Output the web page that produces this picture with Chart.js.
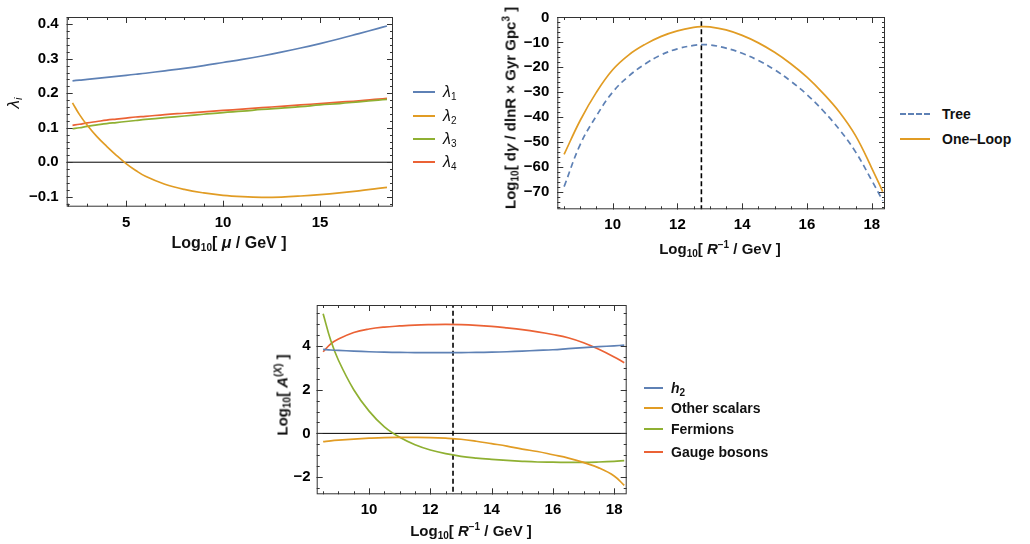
<!DOCTYPE html>
<html>
<head>
<meta charset="utf-8">
<script src="https://cdn.jsdelivr.net/npm/chart.js@4.4.1/dist/chart.umd.min.js"></script>
<style>
  body { margin: 0; background: #fff; width: 1030px; height: 544px; position: relative; overflow: hidden;
         font-family: "Liberation Sans", Arial, sans-serif; color: #111; }
  canvas { position: absolute; }
  .t { position: absolute; font-weight: bold; font-size: 15px; white-space: nowrap; line-height: 1; }
  .t sub { font-size: 10px; vertical-align: -3px; line-height: 0; }
  .t sup { font-size: 10px; vertical-align: 6px; line-height: 0; }
  .yt { transform: translate(-50%, -50%) rotate(-90deg); }
  .xt { transform: translate(-50%, -50%); }
  .lg { position: absolute; font-size: 14px; font-weight: bold; white-space: nowrap; line-height: 1;
        transform: translateY(-50%); }
  .lg.n { font-weight: normal; font-size: 16px; }
  .lg sub { font-size: 10px; vertical-align: -3px; line-height: 0; }
  .ln { position: absolute; height: 0; border-top: 2px solid; }
</style>
</head>
<body>
<canvas id="c1" width="400" height="260" style="left:0;top:0"></canvas>
<canvas id="c2" width="400" height="260" style="left:500px;top:0"></canvas>
<canvas id="c3" width="400" height="254" style="left:250px;top:290px"></canvas>

<!-- axis titles -->
<div class="t yt" style="left:13px;top:103px;font-weight:normal;font-size:17px"><i>λ</i><sub style="font-size:11px"><i>i</i></sub></div>
<div class="t xt" style="left:229px;top:243px;font-size:16px">Log<sub>10</sub>[ <i>μ</i> / GeV ]</div>
<div class="t yt" style="left:510px;top:108px">Log<sub>10</sub>[ d<i>γ</i> / dlnR × Gyr Gpc<sup>3</sup> ]</div>
<div class="t xt" style="left:720px;top:248px">Log<sub>10</sub>[ <i>R</i><sup>−1</sup> / GeV ]</div>
<div class="t yt" style="left:282px;top:395px">Log<sub>10</sub>[ <i>A</i><sup>(<i>X</i>)</sup> ]</div>
<div class="t xt" style="left:471px;top:530px">Log<sub>10</sub>[ <i>R</i><sup>−1</sup> / GeV ]</div>

<!-- legends -->
<div id="leg1"></div>
<div id="leg2"></div>
<div id="leg3"></div>

<script>
// ── Colours (Mathematica default palette) ────────────────────────────────────
const BLUE = '#5e81b5', ORANGE = '#e19c24', GREEN = '#8fb032', RED = '#eb6235';

// ── Panel 1: running couplings λi vs Log10 μ ─────────────────────────────────
const muLog = [2.24, 2.6, 3, 3.5, 4, 4.5, 5, 5.5, 6, 7, 8, 9, 10, 11, 12, 13, 14, 15, 16, 17, 18, 18.45];
const lam1  = [0.236, 0.238, 0.240, 0.243, 0.246, 0.249, 0.252, 0.255, 0.258, 0.265, 0.272, 0.280, 0.289, 0.298, 0.308, 0.319, 0.331, 0.344, 0.358, 0.373, 0.388, 0.395];
const lam2  = [0.172, 0.138, 0.107, 0.074, 0.046, 0.020, -0.004, -0.024, -0.041, -0.064, -0.079, -0.089, -0.096, -0.100, -0.102, -0.101, -0.098, -0.094, -0.089, -0.083, -0.076, -0.073];
const lam3  = [0.097, 0.100, 0.104, 0.108, 0.112, 0.115, 0.118, 0.121, 0.124, 0.129, 0.134, 0.139, 0.144, 0.148, 0.153, 0.157, 0.161, 0.166, 0.170, 0.175, 0.180, 0.182];
const lam4  = [0.107, 0.110, 0.114, 0.118, 0.122, 0.125, 0.128, 0.131, 0.133, 0.138, 0.142, 0.146, 0.150, 0.154, 0.158, 0.162, 0.166, 0.170, 0.174, 0.178, 0.183, 0.185];

// ── Panel 2: decay rate vs Log10 R^-1 ────────────────────────────────────────
const rLog2   = [8.5, 9, 9.5, 10, 10.5, 11, 11.5, 12, 12.5, 12.75, 13, 13.5, 14, 14.5, 15, 15.5, 16, 16.5, 17, 17.5, 18, 18.34];
const tree    = [-68, -51, -39.5, -30, -23.5, -18.7, -15, -12.6, -11.2, -10.9, -11, -12.3, -14.4, -17.3, -21, -25.6, -31, -37.5, -45, -54, -65.5, -73.6];
const oneLoop = [-55, -41.3, -30, -21, -15, -10.8, -7.6, -5.4, -4, -3.7, -3.8, -5, -7.2, -10.2, -14, -18.6, -24, -30.5, -38, -47.5, -60.5, -70];
const rStar = 12.74;   // dashed marker

// ── Panel 3: contributions A(X) ──────────────────────────────────────────────
const rLog3    = [8.5, 8.75, 9, 9.5, 10, 10.5, 11, 11.5, 12, 12.5, 13, 13.5, 14, 14.5, 15, 15.5, 16, 16.5, 17, 17.5, 18, 18.33];
const h2       = [3.85, 3.82, 3.80, 3.77, 3.74, 3.72, 3.71, 3.70, 3.70, 3.70, 3.70, 3.71, 3.72, 3.74, 3.77, 3.80, 3.83, 3.88, 3.93, 3.97, 4.01, 4.04];
const otherSc  = [-0.38, -0.34, -0.31, -0.26, -0.22, -0.19, -0.18, -0.18, -0.19, -0.22, -0.27, -0.36, -0.47, -0.58, -0.72, -0.83, -0.98, -1.13, -1.33, -1.58, -1.95, -2.38];
const fermions = [5.48, 4.25, 3.35, 2.0, 1.02, 0.3, -0.18, -0.52, -0.76, -0.93, -1.05, -1.13, -1.19, -1.24, -1.28, -1.31, -1.32, -1.33, -1.33, -1.31, -1.28, -1.25];
const gauge    = [3.74, 4.1, 4.32, 4.62, 4.78, 4.87, 4.92, 4.96, 4.98, 4.99, 4.98, 4.95, 4.90, 4.83, 4.75, 4.65, 4.53, 4.38, 4.15, 3.85, 3.5, 3.24];

// ── Helpers ──────────────────────────────────────────────────────────────────
const pts = (xs, ys) => xs.map((x, i) => ({ x, y: ys[i] }));
const curve = (xs, ys, color, dash) => ({
  data: pts(xs, ys), borderColor: color, borderWidth: 1.7, borderDash: dash || [],
  pointRadius: 0, tension: 0.4, fill: false,
});
const hline = (x0, x1, y) => ({ data: [{ x: x0, y }, { x: x1, y }], borderColor: '#000', borderWidth: 1, pointRadius: 0 });
const vline = (x, y0, y1) => ({ data: [{ x, y: y0 }, { x, y: y1 }], borderColor: '#000', borderWidth: 1.6, borderDash: [5, 3], pointRadius: 0 });
const minus = (s) => String(s).replace('-', '\u2212');

// frame with inward major/minor ticks on all four sides
const framePlugin = {
  id: 'frame',
  afterDatasetsDraw(chart, args, o) {
    const { ctx, chartArea: a, scales: { x, y } } = chart;
    ctx.save();
    ctx.strokeStyle = '#333';
    ctx.lineWidth = 1;
    ctx.strokeRect(a.left + 0.5, a.top + 0.5, a.width - 1, a.height - 1);
    const marks = (scale, step, len, horiz) => {
      const i0 = Math.ceil(scale.min / step - 1e-6), i1 = Math.floor(scale.max / step + 1e-6);
      ctx.beginPath();
      for (let i = i0; i <= i1; i++) {
        const p = Math.round(scale.getPixelForValue(i * step)) + 0.5;
        if (horiz) {
          ctx.moveTo(p, a.bottom); ctx.lineTo(p, a.bottom - len);
          ctx.moveTo(p, a.top);    ctx.lineTo(p, a.top + len);
        } else {
          ctx.moveTo(a.left, p);  ctx.lineTo(a.left + len, p);
          ctx.moveTo(a.right, p); ctx.lineTo(a.right - len, p);
        }
      }
      ctx.stroke();
    };
    marks(x, o.xMinor, 3, true);  marks(x, o.xMajor, 6, true);
    marks(y, o.yMinor, 3, false); marks(y, o.yMajor, 6, false);
    ctx.restore();
  }
};

function makeChart(id, p) {
  return new Chart(document.getElementById(id), {
    type: 'line',
    data: { datasets: p.datasets },
    options: {
      responsive: false, animation: false,
      layout: { padding: { top: p.pad.top, right: p.pad.right, left: 0, bottom: 0 } },
      plugins: { legend: { display: false }, tooltip: { enabled: false },
                 frame: { xMinor: p.x.minor, xMajor: p.x.step, yMinor: p.y.minor, yMajor: p.y.step } },
      scales: {
        x: {
          type: 'linear', min: p.x.min, max: p.x.max,
          grid: { display: false, drawTicks: false }, border: { display: false },
          ticks: { stepSize: p.x.step, includeBounds: false, padding: p.x.pad, color: '#000',
                   font: { size: p.font, weight: 'bold' }, maxRotation: 0, callback: p.x.fmt || (v => minus(v)) },
          afterFit: s => { s.height = p.x.h; },
        },
        y: {
          type: 'linear', min: p.y.min, max: p.y.max,
          grid: { display: false, drawTicks: false }, border: { display: false },
          ticks: { stepSize: p.y.step, includeBounds: false, padding: p.y.pad, color: '#000',
                   font: { size: p.font, weight: 'bold' }, callback: p.y.fmt || (v => minus(v)) },
          afterFit: s => { s.width = p.y.w; },
        },
      },
    },
    plugins: [framePlugin],
  });
}

Chart.defaults.font.family = '"Liberation Sans", Arial, sans-serif';

// ── Panel 1 ──────────────────────────────────────────────────────────────────
makeChart('c1', {
  font: 15, pad: { top: 5, right: 7 },
  x: { min: 1.94, max: 18.76, step: 5, minor: 1, h: 53.3, pad: 7 },
  y: { min: -0.129, max: 0.421, step: 0.1, minor: 0.02, w: 66.7, pad: 8, fmt: v => minus(v.toFixed(1)) },
  datasets: [
    curve(muLog, lam1, BLUE), curve(muLog, lam2, ORANGE), curve(muLog, lam3, GREEN), curve(muLog, lam4, RED),
    hline(0, 20, 0),
  ],
});

// ── Panel 2 ──────────────────────────────────────────────────────────────────
makeChart('c2', {
  font: 15, pad: { top: 5, right: 15 },
  x: { min: 8.29, max: 18.41, step: 2, minor: 0.5, h: 50.7, pad: 7 },
  y: { min: -77.1, max: 0.2, step: 10, minor: 2, w: 57.3, pad: 8 },
  datasets: [
    curve(rLog2, tree, BLUE, [6, 4]), curve(rLog2, oneLoop, ORANGE),
    vline(rStar, -100, 10),
  ],
});

// ── Panel 3 ──────────────────────────────────────────────────────────────────
makeChart('c3', {
  font: 15, pad: { top: 12.7, right: 23.3 },
  x: { min: 8.29, max: 18.41, step: 2, minor: 0.5, h: 49.7, pad: 7 },
  y: { min: -2.79, max: 5.88, step: 2, minor: 0.5, w: 66.7, pad: 6 },
  datasets: [
    curve(rLog3, h2, BLUE), curve(rLog3, otherSc, ORANGE), curve(rLog3, fermions, GREEN), curve(rLog3, gauge, RED),
    vline(rStar, -10, 10), hline(0, 20, 0),
  ],
});

// ── Legends (HTML) ───────────────────────────────────────────────────────────
function legend(elId, items, lineX, lineW, textX, cls) {
  document.getElementById(elId).innerHTML = items.map(it => `
    <div class="ln" style="left:${lineX}px;top:${it.y - 1}px;width:${lineW}px;border-color:${it.color};${it.dash ? 'border-top-style:dashed;' : ''}"></div>
    <div class="lg ${cls}" style="left:${textX}px;top:${it.y}px">${it.label}</div>`).join('');
}
legend('leg1', [
  { label: '<i>λ</i><sub>1</sub>', color: BLUE,   y: 92 },
  { label: '<i>λ</i><sub>2</sub>', color: ORANGE, y: 116 },
  { label: '<i>λ</i><sub>3</sub>', color: GREEN,  y: 139 },
  { label: '<i>λ</i><sub>4</sub>', color: RED,    y: 162 },
], 413, 22, 443, 'n');
legend('leg2', [
  { label: 'Tree',     color: BLUE,   y: 114, dash: true },
  { label: 'One\u2013Loop', color: ORANGE, y: 139 },
], 900, 30, 942, '');
legend('leg3', [
  { label: '<i>h</i><sub>2</sub>', color: BLUE, y: 388 },
  { label: 'Other scalars', color: ORANGE, y: 408 },
  { label: 'Fermions',      color: GREEN,  y: 429 },
  { label: 'Gauge bosons',  color: RED,    y: 452 },
], 644, 19, 671, '');
</script>
</body>
</html>
